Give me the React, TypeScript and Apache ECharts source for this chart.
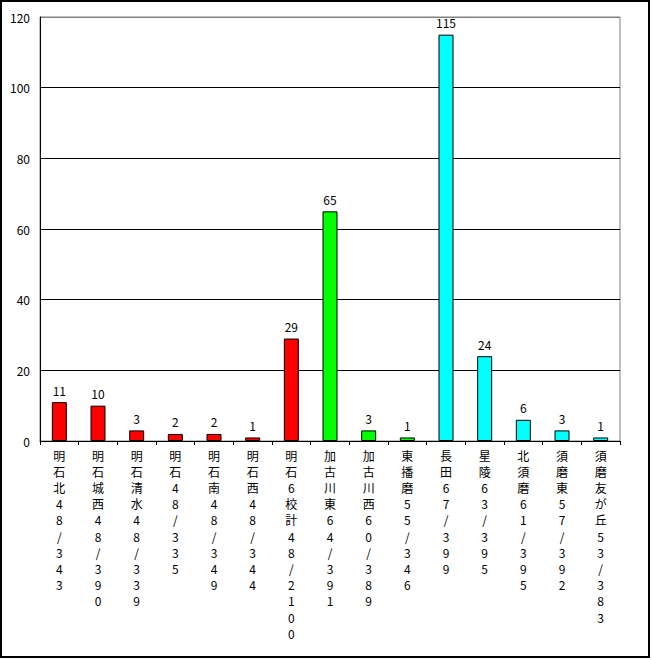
import React, { useEffect, useRef } from "react";
import * as echarts from "echarts";

const categories = [
  "明石北48/343",
  "明石城西48/390",
  "明石清水48/339",
  "明石48/335",
  "明石南48/349",
  "明石西48/344",
  "明石6校計48/2100",
  "加古川東64/391",
  "加古川西60/389",
  "東播磨55/346",
  "長田67/399",
  "星陵63/395",
  "北須磨61/395",
  "須磨東57/392",
  "須磨友が丘53/383",
];
const values = [11, 10, 3, 2, 2, 1, 29, 65, 3, 1, 115, 24, 6, 3, 1];
const barColors = [
  "#ff0000", "#ff0000", "#ff0000", "#ff0000", "#ff0000", "#ff0000", "#ff0000",
  "#00ff00", "#00ff00", "#00ff00",
  "#00ffff", "#00ffff", "#00ffff", "#00ffff", "#00ffff",
];
const yTicks = { min: 0, max: 120, interval: 20 };

export default function App() {
  const ref = useRef<HTMLDivElement>(null);
  useEffect(() => {
    document.body.style.margin = "0";
    const chart = echarts.init(ref.current!, null, { renderer: "svg" });
    const font = "'MS PGothic', 'Noto Sans CJK JP', sans-serif";
    chart.setOption({
      animation: false,
      backgroundColor: "#ffffff",
      textStyle: { fontFamily: font },
      graphic: [
        {
          type: "rect",
          shape: { x: 1, y: 1, width: 648, height: 656 },
          style: { fill: "none", stroke: "#000", lineWidth: 2 },
          silent: true,
        },
      ],
      grid: {
        left: 40,
        right: 32,
        top: 17,
        bottom: 219,
        show: true,
        borderColor: "#808080",
        borderWidth: 1,
        backgroundColor: "transparent",
      },
      xAxis: {
        type: "category",
        data: categories,
        axisLine: { lineStyle: { color: "#000", width: 1 } },
        axisTick: { show: true, length: 4, lineStyle: { color: "#000" } },
        axisLabel: {
          interval: 0,
          margin: 6,
          color: "#000",
          fontSize: 12,
          fontFamily: font,
          lineHeight: 16.2,
          verticalAlign: "top",
          formatter: (v: string) => v.split("").join("\n"),
        },
      },
      yAxis: {
        type: "value",
        min: yTicks.min,
        max: yTicks.max,
        interval: yTicks.interval,
        axisLine: { show: true, lineStyle: { color: "#000", width: 1 } },
        axisTick: { show: false },
        axisLabel: { color: "#000", fontSize: 12, fontFamily: font, margin: 10 },
        splitLine: {
          show: true,
          lineStyle: {
            color: ["#000", "#000", "#000", "#000", "#000", "#000", "#808080"],
            width: 1,
          },
        },
      },
      series: [
        {
          type: "bar",
          barWidth: 15,
          data: values.map((v, i) => ({
            value: v,
            itemStyle: { color: barColors[i], borderColor: "#000", borderWidth: 1 },
          })),
          label: {
            show: true,
            position: "top",
            distance: 6,
            color: "#000",
            fontSize: 12,
            fontFamily: font,
          },
        },
      ],
    });
    return () => chart.dispose();
  }, []);
  return <div ref={ref} style={{ width: 652, height: 660 }} />;
}
